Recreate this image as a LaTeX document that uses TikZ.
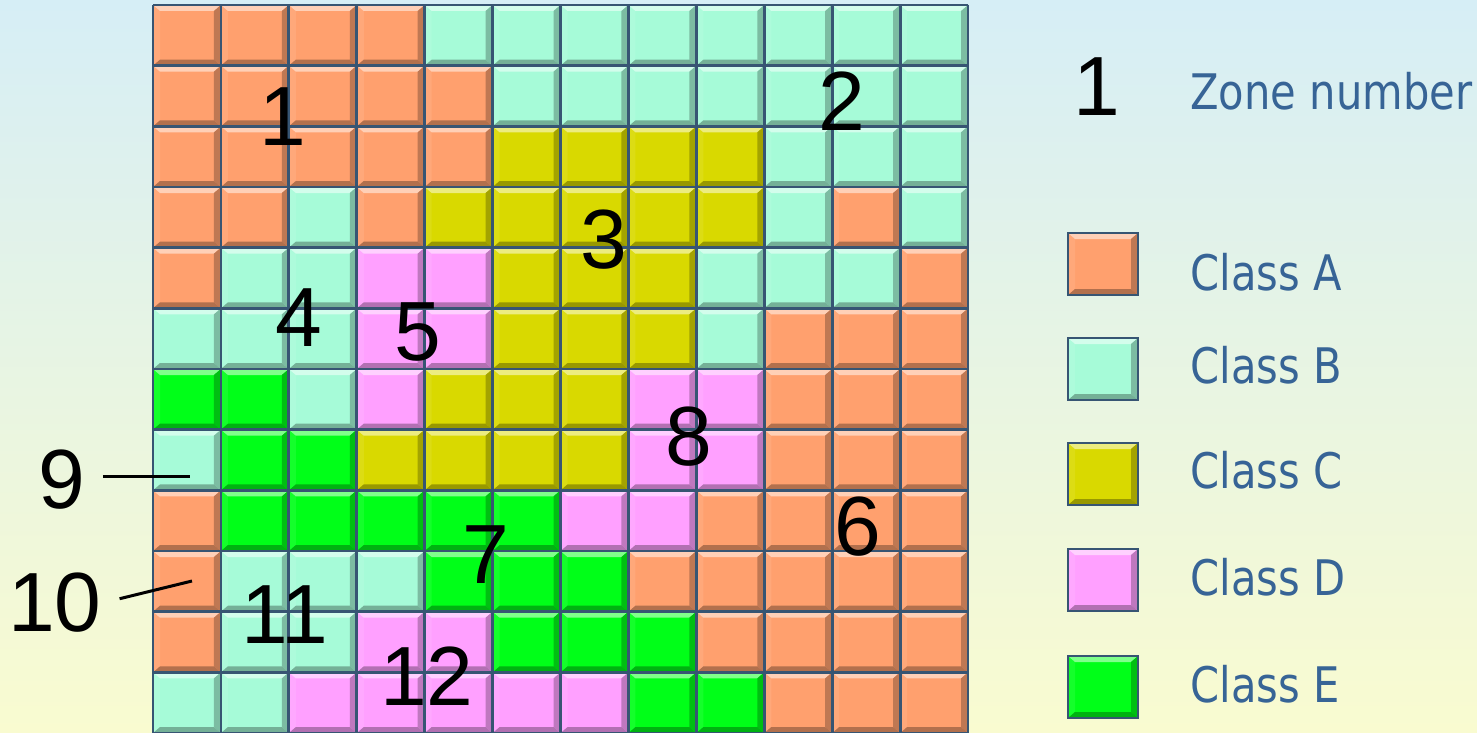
\documentclass[tikz,border=0pt]{standalone}
\usepackage{fontspec}
\usetikzlibrary{calc}
\setmainfont{Liberation Sans}
\newfontfamily\tah[FakeStretch=0.85]{DejaVu Sans}
\definecolor{cA}{RGB}{255,160,110}
\definecolor{cB}{RGB}{166,251,216}
\definecolor{cC}{RGB}{217,217,0}
\definecolor{cD}{RGB}{255,160,255}
\definecolor{cE}{RGB}{0,255,24}
\definecolor{gridc}{RGB}{55,85,115}
\definecolor{txtb}{RGB}{55,100,150}
\definecolor{bgtop}{RGB}{214,238,246}
\definecolor{bgbot}{RGB}{249,251,208}
\newcommand\bevcell[5]{%
  \fill[#5] (#1,#2) rectangle ++(#3,#4);
  \fill[#5!92!white] (#1,#2) -- ++(0,#4) -- ++(7,-6) -- ++(0,{-(#4)+12}) -- cycle;
  \fill[#5!50!white] (#1,#2) -- ++(#3,0) -- ++(-7,6) -- ++({-(#3)+14},0) -- cycle;
  \fill[#5!75!black] ($(#1,#2)+(#3,0)$) -- ++(0,#4) -- ++(-7,-6) -- ++(0,{-(#4)+12}) -- cycle;
  \fill[#5!70!black] ($(#1,#2)+(0,#4)$) -- ++(#3,0) -- ++(-7,-6) -- ++({-(#3)+14},0) -- cycle;
}
\begin{document}
\begin{tikzpicture}[x=0.5pt,y=-0.5pt,
  zn/.style={font=\fontsize{42}{42}\selectfont, inner sep=0pt},
  lt/.style={font=\tah\fontsize{24.5}{24.5}\selectfont, text=txtb, inner sep=0pt, anchor=base west},
  gl/.style={gridc, line width=1.4pt},
  lead/.style={black, line width=1.5pt}]
\useasboundingbox (0,0) rectangle (1477,733);
\shade[top color=bgtop, bottom color=bgbot] (0,0) rectangle (1477,733);
% grid cells
\foreach \row [count=\r from 0] in {
 {A,A,A,A,B,B,B,B,B,B,B,B},
 {A,A,A,A,A,B,B,B,B,B,B,B},
 {A,A,A,A,A,C,C,C,C,B,B,B},
 {A,A,B,A,C,C,C,C,C,B,A,B},
 {A,B,B,D,D,C,C,C,B,B,B,A},
 {B,B,B,D,D,C,C,C,B,A,A,A},
 {E,E,B,D,C,C,C,D,D,A,A,A},
 {B,E,E,C,C,C,C,D,D,A,A,A},
 {A,E,E,E,E,E,D,D,A,A,A,A},
 {A,B,B,B,E,E,E,A,A,A,A,A},
 {A,B,B,D,D,E,E,E,A,A,A,A},
 {B,B,D,D,D,D,D,E,E,A,A,A}}{
  \foreach \c [count=\k from 0] in \row {
    \bevcell{153+\k*67.92}{5+\r*60.67}{67.92}{60.67}{c\c}
  }
}
\foreach \i in {0,...,12}{
  \draw[gl] (153+\i*67.92,5) -- (153+\i*67.92,735);
  \draw[gl] (153,5+\i*60.67) -- (968,5+\i*60.67);
}
% legend boxes
\foreach \c/\y in {A/233,B/338,C/443,D/549,E/656}{
  \bevcell{1068}{\y}{70}{62}{c\c}
  \draw[gl] (1068,\y) rectangle ++(70,62);
}
% zone numbers
\node[zn] (z1) at (283,117) {1};
\node[zn] (z2) at (842,101) {2};
\node[zn] (z3) at (604,240) {3};
\node[zn] (z4) at (299,318) {4};
\node[zn] (z5) at (418,332) {5};
\node[zn] (z6) at (858,527) {6};
\node[zn] (z7) at (486,555) {7};
\node[zn] (z8) at (689,437) {8};
\node[zn] (z9) at (62,480) {9};
\node[zn] (z10) at (55,603) {10};
\node[zn] (z11) at (285,615) {11};
\node[zn] (z12) at (427,676) {12};
\coordinate (p9) at (190,476);
\coordinate (p10) at (192,581);
\draw[lead, shorten <=8.5pt] (z9.east |- p9) -- (p9);
\draw[lead, shorten <=9pt] (z10.east) -- (p10);
% legend
\node[zn] (lz) at (1097,87) {1};
\node[lt] (tzone) at (1190,110) {Zone number};
\node[lt] (ta) at (1190,290) {Class A};
\node[lt] (tb) at (1190,383) {Class B};
\node[lt] (tc) at (1190,488) {Class C};
\node[lt] (td) at (1190,595) {Class D};
\node[lt] (te) at (1190,702) {Class E};
\end{tikzpicture}
\end{document}
